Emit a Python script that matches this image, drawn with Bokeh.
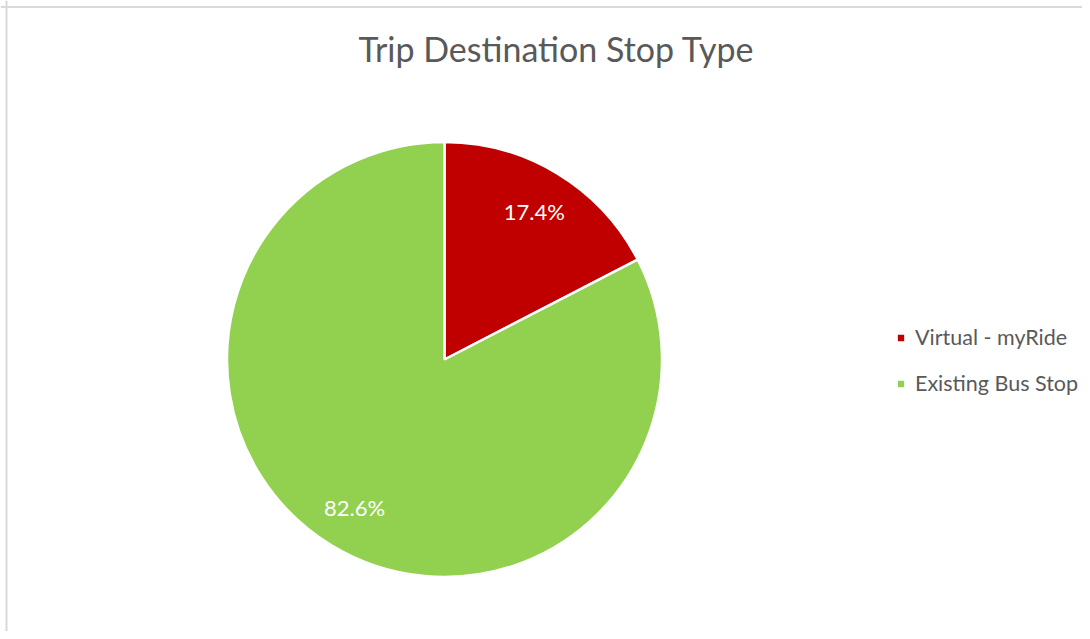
import math
from bokeh.plotting import figure
from bokeh.models import Range1d, Span, Legend, LegendItem, ColumnDataSource
from bokeh.core.properties import value
from bokeh.embed import file_html
from bokeh.resources import INLINE

# ---- data ----
title_text = "Trip Destination Stop Type"
categories = ["Virtual - myRide", "Existing Bus Stop"]
percents = [17.4, 82.6]
colors = ["#C00000", "#92D050"]

FONT = "Lato"
TXT = "#595959"

W, H = 1082, 631
p = figure(width=W, height=H, output_backend="svg", toolbar_location=None,
           x_range=Range1d(0, W), y_range=Range1d(0, H),
           min_border=0, outline_line_color=None)
p.xaxis.visible = False
p.yaxis.visible = False
p.grid.visible = False
p.background_fill_color = "white"
p.border_fill_color = "white"

# chart area border (top and left visible)
p.add_layout(Span(location=6, dimension="height", line_color="#D9D9D9", line_width=2))
p.add_layout(Span(location=H - 6.5, dimension="width", line_color="#D9D9D9", line_width=2))

cx, cy, R = 444, 272, 217.5

total = sum(percents)
starts, ends, mids = [], [], []
a = math.pi / 2
for v in percents:
    span = 2 * math.pi * v / total
    starts.append(a)
    ends.append(a - span)
    mids.append(a - span / 2)
    a -= span

src = ColumnDataSource(dict(cat=categories, pct=percents, color=colors,
                            start=starts, end=ends,
                            lx=[cx + 0.795 * R * math.cos(m) for m in mids],
                            ly=[cy + 0.795 * R * math.sin(m) for m in mids],
                            label=[f"{v:.1f}%" for v in percents]))

renderers = []
for i in range(len(categories)):
    r = p.wedge(x=cx, y=cy, radius=R, radius_units="screen",
                start_angle=starts[i], end_angle=ends[i], direction="clock",
                fill_color=colors[i], line_color="white", line_width=2.5)
    renderers.append(r)

p.text(x="lx", y="ly", text="label", source=src, text_color="white",
       text_font=value(FONT), text_font_size="22px",
       text_align="center", text_baseline="middle")

p.text(x=[556], y=[583], text=[title_text], text_color=TXT,
       text_font=value(FONT), text_font_size="34px",
       text_align="center", text_baseline="alphabetic")

legend = Legend(items=[LegendItem(label=categories[i], renderers=[renderers[i]])
                       for i in range(len(categories))],
                location=(895, 235), orientation="vertical",
                glyph_width=11, glyph_height=11, label_standoff=9,
                spacing=20, padding=0, margin=0,
                border_line_color=None, background_fill_alpha=0,
                label_text_font=FONT, label_text_font_size="21.5px",
                label_text_color=TXT, label_height=26)
p.add_layout(legend)

open("out.html", "w").write(file_html(p, INLINE))
